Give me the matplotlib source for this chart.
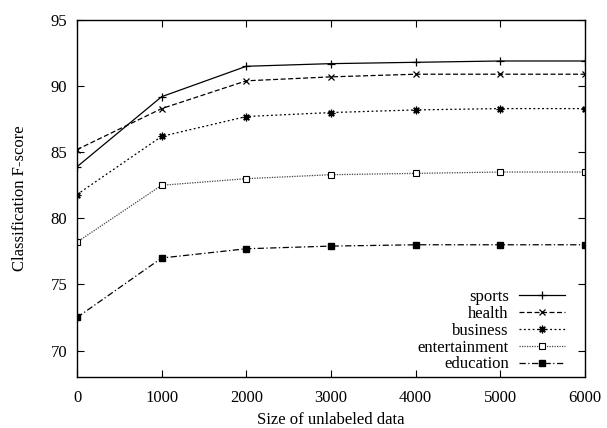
import matplotlib
matplotlib.use("Agg")
import matplotlib.pyplot as plt

plt.rcParams["font.family"] = ["Liberation Serif", "DejaVu Serif"]

sizes = [0, 1000, 2000, 3000, 4000, 5000, 6000]
sports = [83.9, 89.2, 91.5, 91.7, 91.8, 91.9, 91.9]
health = [85.2, 88.3, 90.4, 90.7, 90.9, 90.9, 90.9]
business = [81.8, 86.2, 87.7, 88.0, 88.2, 88.3, 88.3]
entertainment = [78.2, 82.5, 83.0, 83.3, 83.4, 83.5, 83.5]
education = [72.5, 77.0, 77.7, 77.9, 78.0, 78.0, 78.0]

fig = plt.figure(figsize=(6.07, 4.28), dpi=100)
ax = fig.add_axes([77 / 607, 1 - 377 / 428, (585 - 77) / 607, (377 - 20) / 428])

lw = 0.9
ax.plot(sizes, sports, color="black", lw=lw, ls="-", marker="+", ms=6, mew=0.9, label="sports")
ax.plot(sizes, health, color="black", lw=lw, ls=(0, (4, 2)), marker="x", ms=4.5, mew=0.9, label="health")
ax.plot(sizes, business, color="black", lw=lw, ls=(0, (1.5, 2)), marker=(8, 2, 0), ms=5.5, mew=0.9, label="business")
ax.plot(sizes, entertainment, color="#444444", lw=lw, ls=(0, (1, 1)), marker="s", ms=4.3, mfc="white",
        mec="black", mew=0.8, label="entertainment")
ax.plot(sizes, education, color="black", lw=lw, ls=(0, (5, 2, 1, 2)), marker="s", ms=4.5, mfc="black",
        mec="black", label="education")

ax.set_xlim(0, 6000)
ax.set_ylim(68, 95)
ax.set_xticks(sizes)
ax.set_yticks([70, 75, 80, 85, 90, 95])
ax.tick_params(direction="in", top=True, right=True, labelsize=12, length=5, width=0.8)
ax.tick_params(axis="x", pad=9)
ax.tick_params(axis="y", pad=7)
for s in ax.spines.values():
    s.set_linewidth(1.0)

ax.set_xlabel("Size of unlabeled data", fontsize=12, labelpad=5)
ax.set_ylabel("Classification F-score", fontsize=12, labelpad=16)

ax.legend(loc="lower right", frameon=False, markerfirst=False, fontsize=12, handlelength=2.75,
          labelspacing=0.05, handletextpad=0.6, borderaxespad=0.3, bbox_to_anchor=(0.983, -0.02))

fig.savefig("out.png", dpi=100)
